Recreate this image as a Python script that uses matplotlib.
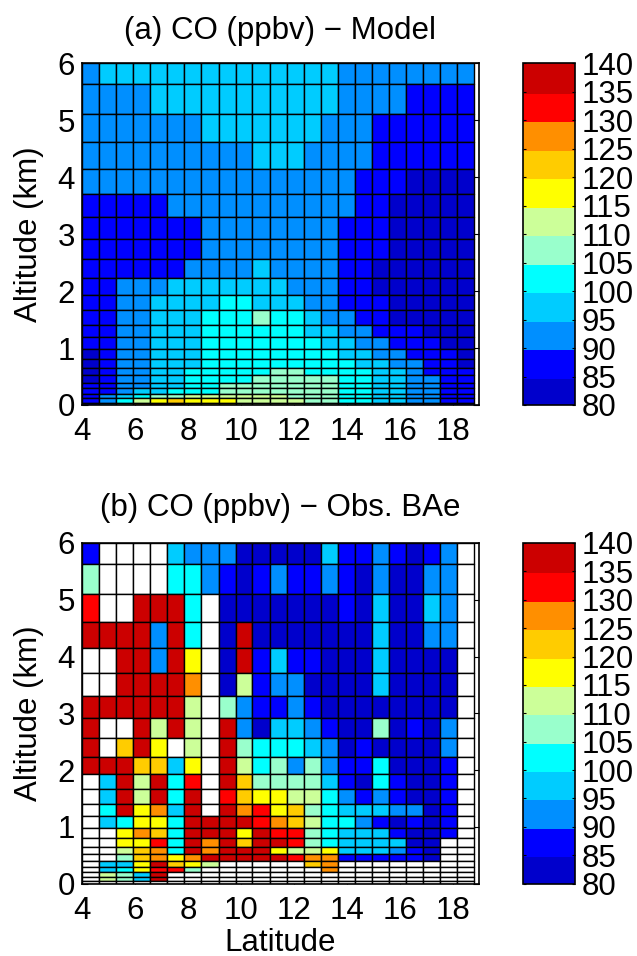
import numpy as np
import matplotlib
matplotlib.use("Agg")
import matplotlib.pyplot as plt
from matplotlib.colors import ListedColormap, BoundaryNorm

plt.rcParams['font.family'] = ['Liberation Sans', 'DejaVu Sans']

W = np.nan

lat_edges = [4.00, 4.64, 5.29, 5.93, 6.58, 7.22, 7.87, 8.51, 9.16, 9.80, 10.44, 11.09,
             11.73, 12.38, 13.02, 13.67, 14.31, 14.96, 15.60, 16.24, 16.89, 17.53, 18.18, 18.82]
alt_edges = [6.00, 5.63, 5.11, 4.61, 4.15, 3.71, 3.30, 2.92, 2.57, 2.23, 1.93, 1.66, 1.40,
             1.19, 0.98, 0.81, 0.65, 0.52, 0.39, 0.29, 0.20, 0.12, 0.04, 0.00]

co_model = [
    [92,97,97,97,97,97,97,97,97,97,97,97,97,97,97,92,92,92,92,92,92,92,92],
    [92,92,92,92,97,97,97,97,97,97,97,97,97,97,97,92,92,92,92,87,87,87,87],
    [92,92,92,92,92,92,92,97,97,97,97,97,97,97,92,92,92,87,87,87,87,87,87],
    [92,92,92,92,92,92,92,92,92,92,97,97,97,92,92,92,92,87,87,87,87,87,87],
    [92,92,92,92,92,92,92,92,92,92,92,92,92,92,92,92,87,87,87,82,82,82,82],
    [87,87,87,87,87,92,92,92,92,92,92,92,92,92,92,92,87,87,82,82,82,82,82],
    [87,87,87,87,87,87,87,92,92,92,92,92,92,92,92,87,87,87,82,82,82,82,82],
    [87,87,87,87,87,87,87,92,92,92,92,92,92,92,92,87,87,87,82,82,82,82,82],
    [87,87,87,87,87,87,92,92,92,92,97,92,92,92,92,87,87,82,82,82,82,82,82],
    [87,87,92,92,92,97,97,97,97,97,97,97,92,92,92,87,87,82,82,82,82,82,82],
    [87,87,92,92,97,97,97,97,102,102,97,97,97,92,92,87,87,87,82,82,82,82,82],
    [87,87,92,92,97,97,97,102,102,102,107,102,102,97,92,92,87,87,82,82,82,82,82],
    [87,87,92,92,97,97,97,102,102,102,102,102,102,97,97,92,92,87,87,87,82,82,82],
    [87,87,92,92,97,97,97,102,102,102,102,102,102,102,97,97,92,92,87,87,87,82,82],
    [82,87,92,92,97,97,97,102,102,102,102,102,102,102,102,97,97,92,92,87,87,87,82],
    [82,87,92,92,97,97,97,102,102,102,102,102,102,102,102,102,97,97,92,92,87,87,82],
    [82,87,92,92,97,97,102,102,102,102,102,107,107,102,102,102,102,97,97,92,87,87,87],
    [82,87,92,92,97,97,102,102,102,102,107,107,107,107,107,102,102,97,97,92,92,87,87],
    [87,87,92,92,97,97,102,102,107,107,107,107,107,107,107,102,102,97,97,92,92,87,87],
    [87,87,92,97,97,102,102,102,107,107,107,107,107,107,107,102,102,97,97,92,92,87,87],
    [87,92,97,102,107,107,112,112,112,112,112,112,107,107,107,102,102,97,97,92,92,87,87],
    [87,92,102,112,117,122,117,117,117,112,112,112,112,107,107,102,102,97,97,92,92,87,87],
    [87,97,112,127,137,137,122,117,117,112,112,112,112,107,107,102,102,97,97,92,92,87,87],
]

co_obs = [
    [87,W,W,W,W,97,92,92,92,82,82,82,82,82,97,87,87,92,87,82,87,92,W],
    [107,W,W,W,W,102,102,92,87,82,87,92,87,87,92,87,82,92,82,82,92,92,W],
    [132,W,W,137,137,137,102,W,82,82,82,82,82,82,82,87,82,97,82,82,97,92,W],
    [137,137,137,137,92,137,102,W,82,137,82,82,82,82,82,82,82,97,82,82,92,92,W],
    [W,W,137,137,92,137,117,W,82,137,87,97,87,87,82,82,82,97,82,82,82,82,W],
    [W,W,137,137,137,137,127,W,82,112,87,92,92,82,82,82,82,97,82,82,82,82,W],
    [137,137,137,137,137,137,112,W,107,92,87,87,92,87,82,82,82,82,82,82,82,82,W],
    [137,W,W,137,112,137,112,W,137,92,82,97,97,92,87,82,82,107,82,87,82,92,W],
    [137,W,122,137,117,W,112,W,137,107,102,102,102,97,92,82,87,82,82,82,82,92,W],
    [137,137,137,122,122,97,117,W,137,112,102,107,92,107,92,87,87,102,82,82,82,87,W],
    [W,97,137,112,137,102,132,W,137,122,107,107,107,107,97,87,82,102,87,82,82,87,W],
    [W,97,137,112,137,102,137,W,132,122,117,117,112,112,102,92,87,92,87,82,82,87,W],
    [W,102,137,117,127,97,137,W,137,127,132,117,122,107,102,97,97,97,92,92,82,87,W],
    [W,97,102,117,117,102,137,137,137,137,132,127,122,112,102,102,92,87,82,87,82,87,W],
    [W,W,117,127,122,102,137,137,137,117,137,132,132,107,102,97,97,97,87,82,82,87,W],
    [W,W,117,117,132,102,137,127,137,122,137,137,132,107,102,97,97,97,97,82,82,W,W],
    [W,W,112,122,127,102,137,127,137,137,137,117,112,112,117,97,97,97,92,87,82,W,W],
    [W,W,107,122,127,117,127,137,137,137,137,137,132,127,127,87,87,87,87,87,82,W,W],
    [W,97,97,117,137,122,117,112,W,W,W,W,W,122,127,W,W,W,W,W,W,W,W],
    [W,97,102,117,132,132,107,W,W,W,W,W,W,W,127,W,W,W,W,W,W,W,W],
    [W,112,107,97,137,W,W,W,W,W,W,W,W,W,W,W,W,W,W,W,W,W,W],
    [W,112,107,97,137,W,W,W,W,W,W,W,W,W,W,W,W,W,W,W,W,W,W],
    [W,W,W,W,W,W,W,W,W,W,W,W,W,W,W,W,W,W,W,W,W,W,W],
]

color_levels = [80, 85, 90, 95, 100, 105, 110, 115, 120, 125, 130, 135, 140]
level_colors = ['#0000cc', '#0000ff', '#008fff', '#00ccff', '#00ffff', '#99ffcc',
                '#ccff99', '#ffff00', '#ffcc00', '#ff8f00', '#ff0000', '#cc0000']
titles = ['(a) CO (ppbv) \u2212 Model', '(b) CO (ppbv) \u2212 Obs. BAe']
x_ticks = [4, 6, 8, 10, 12, 14, 16, 18]
y_ticks = [0, 1, 2, 3, 4, 5, 6]

W_PX, H_PX = 637, 956
FS = 22.5


def box(l, t, r, b):
    return [l / W_PX, 1 - b / H_PX, (r - l) / W_PX, (b - t) / H_PX]


cmap = ListedColormap(level_colors)
cmap.set_bad('white')
norm = BoundaryNorm(color_levels, cmap.N)

fig = plt.figure(figsize=(W_PX / 100, H_PX / 100), dpi=100)

panels = [(co_model, 63.3, 405, 31), (co_obs, 543, 883.5, 508)]
for i, (data, top, bot, title_y) in enumerate(panels):
    ax = fig.add_axes(box(82, top, 479, bot))
    mesh = ax.pcolormesh(lat_edges, alt_edges, np.ma.masked_invalid(np.array(data, float)),
                         cmap=cmap, norm=norm, edgecolors='black', linewidth=1.0,
                         antialiased=True)
    ax.set_xlim(4, 19)
    ax.set_ylim(0, 6)
    ax.set_axisbelow(True)
    ax.set_xticks(x_ticks)
    ax.set_yticks(y_ticks)
    ax.tick_params(direction='in', length=4, width=0.8, top=True, right=True,
                   labelsize=FS, pad=5)
    ax.tick_params(axis='x', pad=9)
    for s in ax.spines.values():
        s.set_linewidth(1.2)
    ax.set_ylabel('Altitude (km)', fontsize=FS)
    ax.yaxis.set_label_coords((44 - 82) / 397, 0.5)
    if i == 1:
        ax.set_xlabel('Latitude', fontsize=FS, labelpad=1.5)
    fig.text(280 / W_PX, 1 - title_y / H_PX, titles[i], fontsize=FS, ha='center', va='center')

    cax = fig.add_axes(box(523, top, 574.5, bot))
    cb = fig.colorbar(mesh, cax=cax, ticks=color_levels, spacing='proportional')
    cb.ax.tick_params(direction='in', length=2, width=0.8, left=True, right=True,
                      labelsize=FS, pad=5)
    cb.outline.set_linewidth(1.2)
    cb.solids.set_edgecolor('face')

fig.savefig('out.png', dpi=100)
